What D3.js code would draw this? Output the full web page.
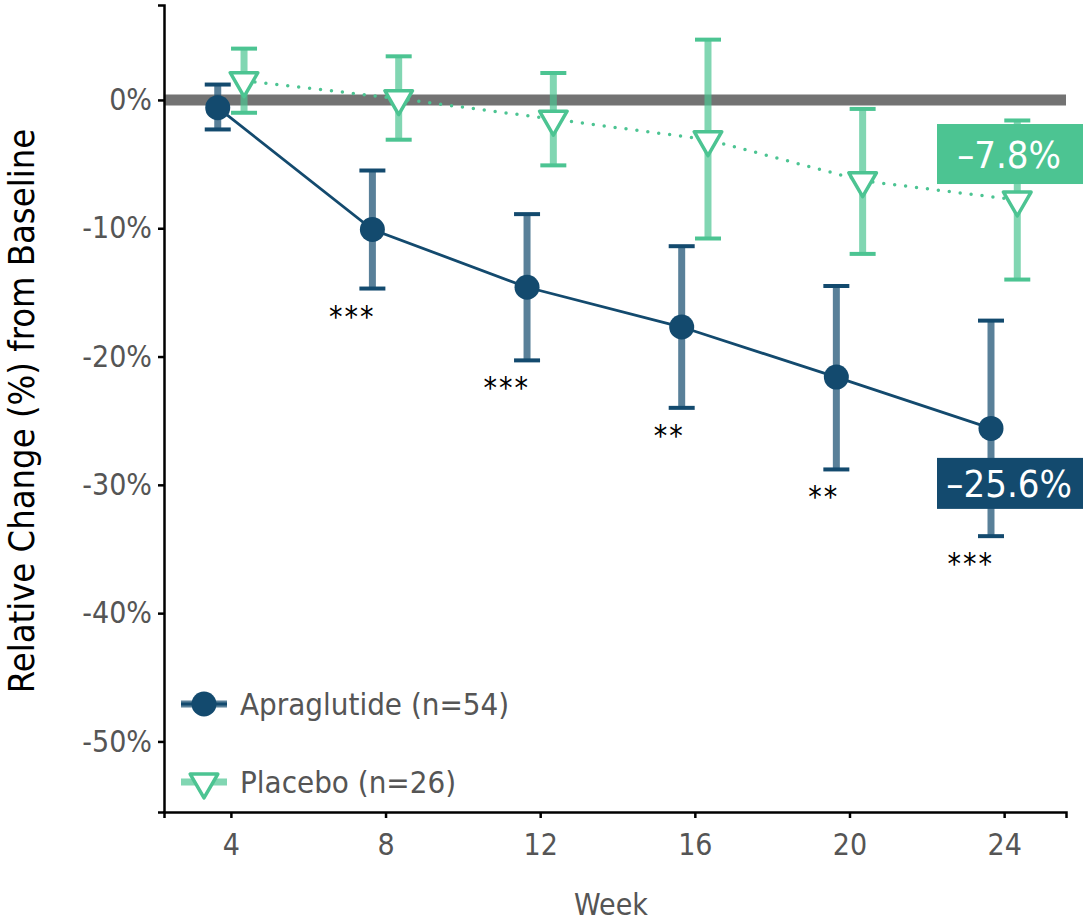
<!DOCTYPE html>
<html>
<head>
<meta charset="utf-8">
<script src="https://cdn.jsdelivr.net/npm/d3@7"></script>
<style>
  body { margin: 0; background: #fff; }
  svg { display: block; }
  text { font-family: "Liberation Sans Narrow", "DejaVu Sans Condensed", sans-serif; }
</style>
</head>
<body>
<svg id="chart" width="1083" height="922"></svg>
<script>
// data
const weeks = [4, 8, 12, 16, 20, 24];
const apraMean = [-0.6, -10.1, -14.6, -17.7, -21.6, -25.6];
const apraLow = [-2.3, -14.7, -20.3, -24.0, -28.8, -34.0];
const apraHigh = [1.2, -5.5, -8.9, -11.4, -14.5, -17.2];
const placeboMean = [1.5, 0.1, -1.5, -3.1, -6.3, -7.8];
const placeboLow = [-1.0, -3.1, -5.1, -10.8, -12.0, -14.0];
const placeboHigh = [4.0, 3.4, 2.1, 4.7, -0.7, -1.6];
const signif = ["", "***", "***", "**", "**", "***"];
const yTicks = [0, -10, -20, -30, -40, -50];
const seriesNames = ["Apraglutide (n=54)", "Placebo (n=26)"];

const navy = "#134a6e", green = "#4cc492", grey = "#555555";

const svg = d3.select("#chart");
const x = d3.scaleLinear().domain([2.27, 25.6]).range([164, 1066]);
const y = d3.scaleLinear().domain([7.4, -55.5]).range([5, 812]);
const dodge = 0.34;

const apra = weeks.map((w, i) => ({w, m: apraMean[i], lo: apraLow[i], hi: apraHigh[i], s: signif[i]}));
const plac = weeks.map((w, i) => ({w, m: placeboMean[i], lo: placeboLow[i], hi: placeboHigh[i]}));

// zero reference line
svg.append("line")
  .attr("x1", x.range()[0]).attr("x2", x.range()[1])
  .attr("y1", y(0)).attr("y2", y(0))
  .attr("stroke", "#737373").attr("stroke-width", 11);

// axes
const yAxis = svg.append("g").attr("transform", `translate(${x.range()[0]},0)`)
  .call(d3.axisLeft(y).tickValues(yTicks).tickSize(6).tickFormat(d => d + "%"));
const xAxis = svg.append("g").attr("transform", `translate(0,${y.range()[1]})`)
  .call(d3.axisBottom(x).tickValues(weeks).tickSize(6).tickFormat(d3.format("d")));
[yAxis, xAxis].forEach(g => {
  g.select(".domain").attr("stroke", "#000").attr("stroke-width", 2.5);
  g.selectAll(".tick line").attr("stroke", "#000").attr("stroke-width", 2.5);
  g.selectAll(".tick text").attr("fill", grey).attr("font-size", 30);
});
yAxis.selectAll(".tick text").attr("x", -12);
xAxis.selectAll(".tick text").attr("y", 22);

svg.append("text")
  .attr("transform", "translate(34,411) rotate(-90)")
  .attr("text-anchor", "middle").attr("font-size", 36).attr("fill", "#000")
  .text("Relative Change (%) from Baseline");
svg.append("text")
  .attr("x", 611).attr("y", 915)
  .attr("text-anchor", "middle").attr("font-size", 30).attr("fill", grey)
  .text("Week");

// error bars
function errorBars(data, off, color) {
  const g = svg.append("g");
  g.selectAll("line.bar").data(data).join("line")
    .attr("x1", d => x(d.w + off)).attr("x2", d => x(d.w + off))
    .attr("y1", d => y(d.hi)).attr("y2", d => y(d.lo))
    .attr("stroke", color).attr("stroke-opacity", 0.7).attr("stroke-width", 7);
  ["hi", "lo"].forEach(k => {
    g.selectAll("line.cap" + k).data(data).join("line")
      .attr("x1", d => x(d.w + off) - 13).attr("x2", d => x(d.w + off) + 13)
      .attr("y1", d => y(d[k])).attr("y2", d => y(d[k]))
      .attr("stroke", color).attr("stroke-width", 4);
  });
}
errorBars(plac, dodge, green);
errorBars(apra, -dodge, navy);

// lines
svg.append("path").datum(plac)
  .attr("d", d3.line().x(d => x(d.w + dodge)).y(d => y(d.m)))
  .attr("fill", "none").attr("stroke", green).attr("stroke-width", 3.5)
  .attr("stroke-dasharray", "0,11").attr("stroke-linecap", "round");
svg.append("path").datum(apra)
  .attr("d", d3.line().x(d => x(d.w - dodge)).y(d => y(d.m)))
  .attr("fill", "none").attr("stroke", navy).attr("stroke-width", 2.8);

// points
const tri = d3.symbol().type(d3.symbolTriangle).size(330);
svg.selectAll("path.plac").data(plac).join("path")
  .attr("transform", d => `translate(${x(d.w + dodge)},${y(d.m)}) rotate(180)`)
  .attr("d", tri).attr("fill", "#fff").attr("stroke", green).attr("stroke-width", 3.5)
  .attr("stroke-linejoin", "round");
svg.selectAll("circle.apra").data(apra).join("circle")
  .attr("cx", d => x(d.w - dodge)).attr("cy", d => y(d.m)).attr("r", 12.5)
  .attr("fill", navy);

// significance stars
svg.selectAll("text.sig").data(apra.filter(d => d.s)).join("text")
  .attr("x", d => x(d.w - dodge) + 3).attr("y", d => y(d.lo) + 38)
  .attr("text-anchor", "end").attr("font-size", 30).attr("fill", "#000")
  .attr("letter-spacing", 2)
  .attr("font-family", "DejaVu Sans")
  .text(d => d.s);

// end labels
function endLabel(d, color, dy, h) {
  const cx = x(d.w) + 5, cy = y(d.m) + dy;
  svg.append("rect").attr("x", 937).attr("width", 146)
    .attr("y", cy - h / 2).attr("height", h).attr("fill", color);
  svg.append("text").attr("x", cx).attr("y", cy + 14)
    .attr("text-anchor", "middle").attr("font-size", 38).attr("fill", "#fff")
    .text((d.m > 0 ? "+" : "\u2013") + Math.abs(d.m).toFixed(1) + "%");
}
endLabel(plac[plac.length - 1], green, -46, 60);
endLabel(apra[apra.length - 1], navy, 55, 51);

// legend
const legend = [
  {name: seriesNames[0], color: navy, y: 704},
  {name: seriesNames[1], color: green, y: 782}
];
legend.forEach((l, i) => {
  const g = svg.append("g").attr("transform", `translate(204,${l.y})`);
  g.append("line").attr("x1", -23).attr("x2", 23)
    .attr("stroke", l.color).attr("stroke-opacity", 0.7).attr("stroke-width", 7);
  if (i === 0) {
    g.append("line").attr("x1", -23).attr("x2", 23).attr("stroke", navy).attr("stroke-width", 2.8);
    g.append("circle").attr("r", 12.5).attr("fill", navy);
  } else {
    g.append("path").attr("d", tri).attr("transform", "rotate(180)")
      .attr("fill", "#fff").attr("stroke", green).attr("stroke-width", 3.5)
      .attr("stroke-linejoin", "round");
  }
  g.append("text").attr("x", 36).attr("y", 11)
    .attr("font-size", 31).attr("fill", grey).text(l.name);
});
</script>
</body>
</html>
